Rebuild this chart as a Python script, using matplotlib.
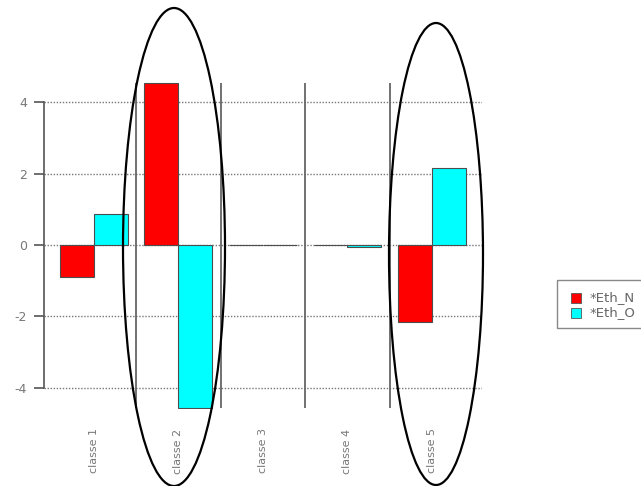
#!/usr/bin/env python3
"""Barplot des écarts par classe (Eth_N / Eth_O) avec ellipses de mise en évidence."""
import matplotlib
matplotlib.use('Agg')
import matplotlib.pyplot as plt
from matplotlib.patches import Ellipse, Rectangle
import numpy as np

classes = ['classe 1', 'classe 2', 'classe 3', 'classe 4', 'classe 5']
eth_n = [-0.91, 4.55, 0.0, 0.0, -2.16]
eth_o = [0.87, -4.58, 0.0, -0.05, 2.16]
series_names = ['*Eth_N', '*Eth_O']
series_colors = ['#ff0000', '#00ffff']
y_ticks = [-4, -2, 0, 2, 4]

W, H = 641, 486
fig = plt.figure(figsize=(W / 100, H / 100), dpi=100)

# zone de tracé (pixels -> fraction)
left_px, right_px, top_px, bot_px = 43.7, 482, 81, 409
ax = fig.add_axes([left_px / W, 1 - bot_px / H, (right_px - left_px) / W, (bot_px - top_px) / H])
ax.set_xlim(0.02, 12.98)
ax.set_ylim(-4.6, 4.6)

# grille pointillée
for v in y_ticks:
    ax.axhline(v, color='#777777', lw=1, linestyle=(0, (1, 1.2)), zorder=1)

# barres côte à côte, largeur 1, espace 0.5 entre groupes
starts = 0.5 + 2.5 * np.arange(len(classes))
for k, vals in enumerate([eth_n, eth_o]):
    ax.bar(starts + k, vals, width=1, align='edge', color=series_colors[k],
           edgecolor='#4d4d4d', linewidth=0.8, zorder=2)

# séparateurs verticaux entre classes
allv = eth_n + eth_o
seps = starts[1:] - 0.25
ax.vlines(seps, min(allv), max(allv), color='#666666', lw=1.3, zorder=3)

for s in ['top', 'right', 'bottom']:
    ax.spines[s].set_visible(False)
ax.spines['left'].set_bounds(-4, 4)
ax.spines['left'].set_color('#555555')
ax.spines['left'].set_linewidth(1.2)
ax.set_yticks(y_ticks)
ax.set_yticklabels([str(v) for v in y_ticks], fontsize=9, color='#777777')
ax.tick_params(axis='y', length=7, width=1.2, color='#555555', pad=5)
ax.set_xticks(starts + 1)
ax.set_xticklabels(classes, rotation=90, fontsize=8, color='#777777', va='top')
ax.tick_params(axis='x', length=0, pad=14)

# légende (bord droit coupé comme sur l'original)
ov = fig.add_axes([0, 0, 1, 1], facecolor='none')
ov.set_xlim(0, W)
ov.set_ylim(H, 0)
ov.axis('off')
ov.add_patch(Rectangle((557, 280), 120, 48, fill=False, edgecolor='#888888', lw=1, clip_on=False))
for i, (name, c) in enumerate(zip(series_names, series_colors)):
    y = 298 + 15 * i
    ov.add_patch(Rectangle((571, y - 5), 10, 10, facecolor=c, edgecolor='#555555', lw=0.6))
    ov.text(590, y, name, fontsize=9.5, color='#666666', va='center', ha='left')

# ellipses d'annotation
ov.add_patch(Ellipse((174, 247), 102, 478, fill=False, edgecolor='black', lw=1.6, clip_on=False))
ov.add_patch(Ellipse((436, 254), 94, 462, fill=False, edgecolor='black', lw=1.6, clip_on=False))

fig.savefig('out.png', dpi=100)
